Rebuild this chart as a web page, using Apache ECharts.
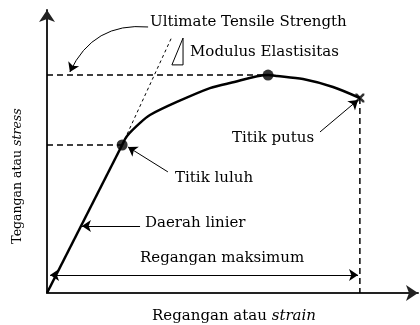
<!DOCTYPE html>
<html>
<head>
<meta charset="utf-8">
<script src="https://cdn.jsdelivr.net/npm/echarts@6/dist/echarts.min.js"></script>
<style>
  html, body { margin: 0; padding: 0; background: #fff; }
  #main { width: 420px; height: 325px; }
</style>
</head>
<body>
<div id="main"></div>
<script>
// stress-strain curve (arbitrary units)
var strain = [0, 24.3, 25.9, 30.1, 33.3, 42.0, 52.7, 59.2, 71.5, 74.4, 82.8, 92.5, 101.2];
var stress = [0, 52.3, 55.5, 60.1, 62.9, 67.5, 72.4, 74.2, 77.0, 76.7, 75.6, 72.8, 68.9];
var yieldIdx = 1, utsIdx = 8, breakIdx = 12;

// dotted modulus line + little slope triangle
var modulusEnd = [40.4, 90.5];
var triangle = [[40.4, 80.6], [44.0, 80.6], [44.0, 90.1], [40.4, 80.6]];

// annotation arrows [from, to]
var arrowUts = [[32.7, 94.0], [7.4, 78.1]];
var arrowYield = [[39.1, 42.8], [26.2, 51.6]];
var arrowBreak = [[88.3, 56.9], [100.6, 68.2]];
var arrowLinear = [[30.1, 23.7], [11.3, 23.7]];
var arrowMaxStrain = [[1.0, 6.4], [100.6, 6.4]];

var pts = strain.map(function (x, i) { return [x, stress[i]]; });
var yieldPt = pts[yieldIdx], utsPt = pts[utsIdx], breakPt = pts[breakIdx];

var myChart = echarts.init(document.getElementById('main'));
var font = 'DejaVu Serif';
var dash = { color: '#000', width: 1.5, type: [6, 4] };

function arrow(coords, both, curve) {
  return {
    type: 'lines', coordinateSystem: 'cartesian2d', silent: true,
    symbol: both ? ['arrow', 'arrow'] : ['none', 'arrow'], symbolSize: 9,
    lineStyle: { color: '#000', width: 1, curveness: curve || 0, opacity: 1 },
    data: [{ coords: coords }]
  };
}
function plain(data, style, smooth) {
  return {
    type: 'line', data: data, symbol: 'none', smooth: smooth || false,
    lineStyle: style, silent: true, animation: false
  };
}
function label(text, x, y, size) {
  return {
    type: 'text', x: x, y: y,
    style: {
      text: text, font: (size || 15) + 'px ' + font, fill: '#000', verticalAlign: 'middle',
      rich: { i: { fontStyle: 'italic', fontFamily: font, fontSize: size || 15 } }
    }
  };
}

var yLabel = label('Tegangan atau {i|stress}', 18, 176, 12.5);
yLabel.rotation = Math.PI / 2;
yLabel.style.align = 'center';

var option = {
  backgroundColor: '#fff',
  animation: false,
  grid: { left: 47, right: 2, top: 10, bottom: 32 },
  xAxis: {
    type: 'value', min: 0, max: 120,
    axisLine: { lineStyle: { color: '#222', width: 2 }, symbol: ['none', 'arrow'], symbolSize: [12, 12] },
    axisTick: { show: false }, axisLabel: { show: false }, splitLine: { show: false }
  },
  yAxis: {
    type: 'value', min: 0, max: 100,
    axisLine: { show: true, lineStyle: { color: '#222', width: 2 }, symbol: ['none', 'arrow'], symbolSize: [12, 12] },
    axisTick: { show: false }, axisLabel: { show: false }, splitLine: { show: false }
  },
  series: [
    plain([[0, utsPt[1]], utsPt], dash),
    plain([[0, yieldPt[1]], yieldPt], dash),
    plain([breakPt, [breakPt[0], 0]], dash),
    plain([yieldPt, modulusEnd], { color: '#000', width: 1, type: [3, 3] }),
    plain(triangle, { color: '#000', width: 1 }),
    plain(pts.slice(0, yieldIdx + 1), { color: '#000', width: 2.5 }),
    plain(pts.slice(yieldIdx), { color: '#000', width: 2.5 }, 0.3),
    {
      type: 'scatter', symbolSize: 11, silent: true,
      itemStyle: { color: '#000' },
      data: [yieldPt, utsPt]
    },
    {
      type: 'scatter', symbolSize: 9, silent: true,
      symbol: 'path://M0 0L2 0L10 8L10 10L8 10L0 2ZM8 0L10 0L10 2L2 10L0 10L0 8Z',
      itemStyle: { color: '#000' },
      data: [breakPt]
    },
    arrow(arrowUts, false, -0.35),
    arrow(arrowYield),
    arrow(arrowBreak),
    arrow(arrowLinear),
    arrow(arrowMaxStrain, true)
  ],
  graphic: [
    label('Ultimate Tensile Strength', 150, 22),
    label('Modulus Elastisitas', 190, 52),
    label('Titik putus', 232, 138),
    label('Titik luluh', 175, 178),
    label('Daerah linier', 145, 223),
    label('Regangan maksimum', 140, 258),
    label('Regangan atau {i|strain}', 152, 316),
    yLabel
  ]
};
myChart.setOption(option);
</script>
</body>
</html>
